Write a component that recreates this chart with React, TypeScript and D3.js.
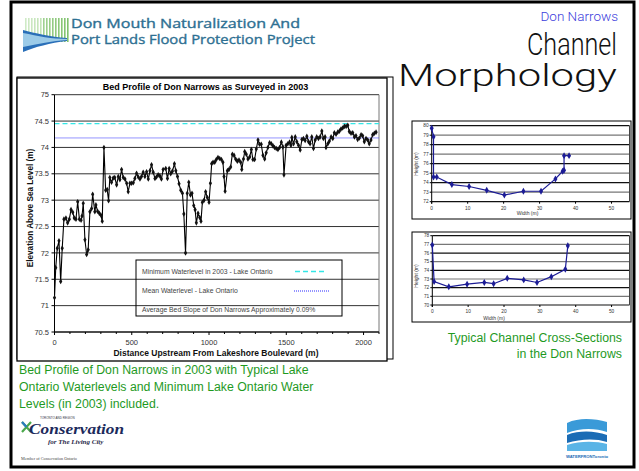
import React from "react";
import * as d3 from "d3";

// Bed profile survey (distance upstream m, elevation m)
const profileDist = [
  0, 8, 18, 29, 40, 50, 61, 74, 85, 96, 107, 118, 128, 139, 150, 161, 172, 178, 186, 197,
  208, 218, 229, 240, 247, 261, 268, 279, 290, 300, 309, 320, 331, 341, 350, 358, 369, 380, 390, 402,
  413, 423, 434, 445, 456, 467, 477, 488, 499, 510, 520, 531, 542, 553, 563, 574, 585, 596, 607, 618,
  628, 639, 650, 660, 671, 682, 692, 703, 720, 731, 742, 752, 763, 776, 785, 796, 806, 817, 828, 837,
  848, 859, 869, 880, 890, 901, 910, 918, 929, 940, 948, 957, 968, 978, 989, 1000, 1009, 1017, 1026, 1037,
  1047, 1058, 1069, 1080, 1090, 1097, 1104, 1119, 1129, 1140, 1151, 1162, 1172, 1183, 1194, 1205, 1212, 1223, 1231, 1241,
  1252, 1263, 1274, 1284, 1295, 1306, 1317, 1327, 1338, 1349, 1360, 1370, 1381, 1392, 1403, 1414, 1424, 1435, 1446, 1457,
  1468, 1478, 1485, 1499, 1510, 1521, 1530, 1536, 1547, 1558, 1568, 1579, 1590, 1601, 1611, 1622, 1633, 1644, 1654, 1665,
  1676, 1687, 1697, 1708, 1719, 1730, 1740, 1751, 1757, 1769, 1779, 1790, 1801, 1811, 1822, 1833, 1844, 1854, 1865, 1876,
  1887, 1898, 1908, 1919, 1930, 1941, 1951, 1962, 1973, 1984, 1994, 2005, 2016, 2027, 2037, 2048, 2059, 2070, 2081,
];
const profileElev = [
  71.15, 71.72, 72.09, 72.23, 71.46, 72.09, 72.64, 72.66, 72.57, 72.64, 72.82, 72.77, 72.66, 72.64, 72.97, 72.64, 72.62, 72.7, 72.94, 72.25,
  71.97, 72.06, 72.78, 72.84, 73.11, 72.78, 72.91, 72.79, 72.75, 72.72, 72.6, 74.0, 73.19, 73.2, 72.99, 73.43, 73.34, 73.42, 73.43, 73.29,
  73.45, 73.39, 73.58, 73.43, 73.4, 73.32, 73.16, 73.32, 73.32, 73.33, 73.41, 73.51, 73.44, 73.4, 73.45, 73.53, 73.45, 73.54, 73.4, 73.56,
  73.67, 73.53, 73.41, 73.44, 73.48, 73.46, 73.4, 73.58, 73.6, 73.41, 73.6, 73.5, 73.55, 73.69, 73.56, 73.45, 73.31, 73.19, 73.13, 72.74,
  72.0, 73.13, 73.34, 73.1, 73.13, 72.9, 72.82, 72.57, 72.75, 72.67, 72.6, 72.96, 73.0, 73.16, 73.05, 72.96, 73.32, 73.69, 73.72, 73.72,
  73.77, 73.81, 73.79, 73.77, 73.72, 73.45, 73.17, 73.56, 73.58, 73.63, 73.87, 73.85, 73.78, 73.74, 73.76, 73.72, 73.58, 73.78, 73.92, 73.87,
  73.78, 73.82, 73.96, 73.77, 73.77, 73.97, 74.14, 74.06, 74.06, 73.85, 73.78, 73.9, 74.0, 74.09, 74.07, 74.03, 74.0, 73.98, 73.96, 74.0,
  74.1, 74.01, 73.48, 74.04, 74.07, 74.1, 74.04, 74.19, 74.07, 74.2, 74.11, 74.04, 73.95, 74.15, 74.17, 74.13, 74.21, 74.11, 74.07, 74.2,
  73.98, 74.14, 74.2, 74.17, 74.2, 74.31, 74.17, 74.2, 74.0, 74.07, 74.12, 74.2, 74.17, 74.28, 74.25, 74.29, 74.31, 74.35, 74.37, 74.4,
  74.4, 74.42, 74.3, 74.27, 74.28, 74.2, 74.22, 74.15, 74.18, 74.24, 74.22, 74.11, 74.17, 74.14, 74.07, 74.14, 74.24, 74.27, 74.29,
];

const minWaterLevel = 74.45;
const meanWaterLevel = 74.18;

const legendLabels = [
  "Minimum Waterlevel in 2003 - Lake Ontario",
  "Mean Waterlevel - Lake Ontario",
  "Average Bed Slope of Don Narrows Approximately 0.09%",
];

const yTicks = [70.5, 71, 71.5, 72, 72.5, 73, 73.5, 74, 74.5, 75];
const xTicks = [0, 500, 1000, 1500, 2000];
const xMinorTicks = d3.range(0, 2101, 100);

// cross-section 1
const xs1Width = [0, 0.5, 0.5, 1.4, 5.6, 10.4, 15.3, 20.2, 25.5, 30.4, 34.4, 36.4, 36.8, 36.8, 38.2];
const xs1Height = [79.73, 78.84, 74.6, 74.6, 73.8, 73.6, 73.2, 72.7, 73.1, 73.1, 74.4, 75.2, 75.3, 76.85, 76.85];
// cross-section 2
const xs2Width = [0, 0.5, 4.6, 9.7, 14.5, 17.1, 20.9, 25.5, 29.2, 33.2, 37.1, 37.8];
const xs2Height = [76.93, 72.7, 72.1, 72.4, 72.6, 72.46, 73.08, 72.9, 72.6, 73.27, 74.12, 76.85];

const xsXTicks = [0, 10, 20, 30, 40, 50];
const xs1YTicks = [72, 73, 74, 75, 76, 77, 78, 79, 80];
const xs2YTicks = [70, 71, 72, 73, 74, 75, 76, 77, 78];

const FONT = "Arial, 'Liberation Sans', Helvetica, sans-serif";

function CrossSection({ widths, heights, yTicks, box, plot, widthLabelX, widthLabelY, heightLabelY }) {
  const x = d3.scaleLinear().domain([0, 55]).range([plot.left, plot.right]);
  const y = d3.scaleLinear().domain([yTicks[0], yTicks[yTicks.length - 1]]).range([plot.bottom, plot.top]);
  const pts = widths.map((w, i) => [x(w), y(heights[i])]);
  const line = d3.line()(pts as [number, number][]);
  const diamond = d3.symbol().type(d3.symbolDiamond).size(14)();
  return (
    <g fontFamily={FONT}>
      <rect x={box.x} y={box.y} width={box.w} height={box.h} fill="#fff" stroke="#000" strokeWidth={1} />
      {yTicks.map((t, i) => (
        <g key={t}>
          <line x1={plot.left} x2={plot.right} y1={y(t)} y2={y(t)} stroke={i % 2 ? "#777" : "#111"} strokeWidth={1.2} />
          <line x1={plot.left - 2} x2={plot.left} y1={y(t)} y2={y(t)} stroke="#000" />
          <text x={plot.left - 3} y={y(t) + 1.7} fontSize={4.8} textAnchor="end" fill="#333">{t}</text>
        </g>
      ))}
      <line x1={plot.right} x2={plot.right} y1={plot.top} y2={plot.bottom} stroke="#444" />
      <line x1={plot.left} x2={plot.left} y1={plot.top} y2={plot.bottom + 2} stroke="#000" />
      {xsXTicks.map((t) => (
        <g key={t}>
          <line x1={x(t)} x2={x(t)} y1={plot.bottom} y2={plot.bottom + 2} stroke="#000" />
          <text x={x(t)} y={plot.bottom + 8} fontSize={4.8} textAnchor="middle" fill="#333">{t}</text>
        </g>
      ))}
      <text x={widthLabelX} y={widthLabelY} fontSize={5} textAnchor="middle" fill="#333">Width (m)</text>
      <text transform={`translate(${box.x + 6},${heightLabelY}) rotate(-90)`} fontSize={5} textAnchor="middle" fill="#333">Height (m)</text>
      <path d={line} fill="none" stroke="#1c1c96" strokeWidth={1.2} />
      {pts.map((p, i) => (
        <path key={i} d={diamond} transform={`translate(${p[0]},${p[1]})`} fill="#1c1c96" />
      ))}
    </g>
  );
}

export default function App() {
  const x = d3.scaleLinear().domain([0, 2100]).range([54.5, 379]);
  const y = d3.scaleLinear().domain([70.5, 75]).range([332, 94.7]);
  const pts = profileDist.map((d, i) => [x(d), y(profileElev[i])] as [number, number]);
  const profileLine = d3.line()(pts);
  const marker = d3.symbol().type(d3.symbolDiamond).size(9)();

  const stripes = d3.range(0, 15);

  return (
    <svg width={639} height={471} style={{ position: "absolute", left: 0, top: 0, background: "#fff" }}>
      <rect x={0} y={0} width={639} height={471} fill="#fff" />
      {/* slide frame */}
      <rect x={11} y={2} width={623} height={465} fill="none" stroke="#000" strokeWidth={3} />

      {/* top-left logo */}
      <g>
        {stripes.map((i) => (
          <rect key={i} x={25 + i * 3} y={18} width={1.6} height={24} fill={i < 6 ? "#a8d898" : "#7cc068"} opacity={0.55 + i * 0.03} />
        ))}
        <path d="M23,30 C35,33 50,37 67,38 L67,41 C50,43 35,47 23,52 Z" fill="#2a6fb8" />
        <path d="M23,33 C38,36 52,39 67,39 L67,40 C52,41 38,44 23,47 Z" fill="#9ccbe8" />
      </g>
      <g fontFamily="'Open Sans', 'Noto Sans', sans-serif" fontWeight={400} fill="#2d6f92" stroke="#2d6f92" strokeWidth={0.35}>
        <text x={71} y={28} fontSize={12.5} textLength={229} lengthAdjust="spacingAndGlyphs">Don Mouth Naturalization And</text>
        <text x={71} y={44} fontSize={12.5} textLength={244} lengthAdjust="spacingAndGlyphs">Port Lands Flood Protection Project</text>
      </g>

      {/* slide title */}
      <g fontFamily="Roboto, Arial, sans-serif" fontWeight={300} textAnchor="end">
        <text x={618} y={20.5} fontSize={13.5} fill="#3c3cdc">Don Narrows</text>
        <text x={617} y={55} fontSize={31} fill="#111" textLength={90} lengthAdjust="spacingAndGlyphs">Channel</text>
        <text x={617} y={86} fontSize={31} fill="#111" textLength={219} lengthAdjust="spacingAndGlyphs">Morphology</text>
      </g>

      {/* main chart frames */}
      <rect x={17} y={77} width={376} height={282} fill="none" stroke="#000" strokeWidth={1} />
      <rect x={17} y={78} width={370} height={283} fill="#fff" stroke="#000" strokeWidth={1.3} />

      <g fontFamily={FONT}>
        <text x={205.5} y={90} fontSize={9} fontWeight="bold" textAnchor="middle" fill="#000">Bed Profile of Don Narrows as Surveyed in 2003</text>

        {/* gridlines */}
        {yTicks.map((t) => (
          <g key={t}>
            <line x1={x(0)} x2={x(2100)} y1={y(t)} y2={y(t)} stroke="#333" strokeWidth={1} />
            <line x1={x(0) - 3} x2={x(0)} y1={y(t)} y2={y(t)} stroke="#000" />
            <text x={49} y={y(t) + 2.6} fontSize={7.5} textAnchor="end" fill="#333">{t}</text>
          </g>
        ))}
        <line x1={x(2100)} x2={x(2100)} y1={y(75)} y2={y(70.5)} stroke="#777" />

        {/* legend (transparent) */}
        <rect x={136} y={260} width={206} height={56} fill="none" stroke="#000" strokeWidth={1} />
        <text x={142} y={274} fontSize={6.8} fill="#444">{legendLabels[0]}</text>
        <line x1={295} x2={327} y1={271.5} y2={271.5} stroke="#33e6e6" strokeWidth={1.3} strokeDasharray="5,3" />
        <text x={142} y={293} fontSize={6.8} fill="#444">{legendLabels[1]}</text>
        <line x1={294} x2={330} y1={291} y2={291} stroke="#2a2aff" strokeWidth={1} strokeDasharray="1,1" />
        <text x={142} y={311.5} fontSize={6.8} fill="#444">{legendLabels[2]}</text>

        {/* lake levels */}
        <line x1={x(0)} x2={x(2100)} y1={y(minWaterLevel)} y2={y(minWaterLevel)} stroke="#33e6e6" strokeWidth={1.3} strokeDasharray="5,3" />
        <line x1={x(0)} x2={x(2100)} y1={y(meanWaterLevel)} y2={y(meanWaterLevel)} stroke="#2a2aff" strokeWidth={1} strokeDasharray="1,1" />

        {/* axes */}
        <line x1={x(0)} x2={x(0)} y1={y(75)} y2={y(70.5)} stroke="#000" strokeWidth={1} />
        <line x1={x(0)} x2={x(2100)} y1={y(70.5)} y2={y(70.5)} stroke="#000" strokeWidth={1} />
        {xMinorTicks.map((t) => (
          <line key={t} x1={x(t)} x2={x(t)} y1={y(70.5)} y2={y(70.5) + (t % 500 === 0 ? 3 : 2)} stroke="#000" />
        ))}
        {xTicks.map((t) => (
          <text key={t} x={x(t)} y={345} fontSize={7.5} textAnchor="middle" fill="#333">{t}</text>
        ))}
        <text x={216} y={356} fontSize={8.5} fontWeight="bold" textAnchor="middle" fill="#111">Distance Upstream From Lakeshore Boulevard (m)</text>
        <text transform="translate(33,208) rotate(-90)" fontSize={8.2} fontWeight="bold" textAnchor="middle" fill="#111">Elevation Above Sea Level (m)</text>

        {/* profile */}
        <path d={profileLine} fill="none" stroke="#000" strokeWidth={1.1} />
        {pts.map((p, i) => (
          <path key={i} d={marker} transform={`translate(${p[0]},${p[1]})`} fill="#111" />
        ))}
      </g>

      {/* cross sections */}
      <CrossSection
        widths={xs1Width}
        heights={xs1Height}
        yTicks={xs1YTicks}
        box={{ x: 412, y: 121, w: 219, h: 98 }}
        plot={{ left: 431.7, right: 629.5, top: 125.7, bottom: 201.7 }}
        widthLabelX={527.5}
        widthLabelY={215}
        heightLabelY={164}
      />
      <CrossSection
        widths={xs2Width}
        heights={xs2Height}
        yTicks={xs2YTicks}
        box={{ x: 412, y: 232, w: 219, h: 90 }}
        plot={{ left: 432.3, right: 629.5, top: 235.7, bottom: 305 }}
        widthLabelX={494}
        widthLabelY={319.5}
        heightLabelY={276}
      />

      {/* captions */}
      <g fontFamily={FONT} fill="#1f9a1f" fontSize={12.3}>
        <text x={622} y={342} textAnchor="end">Typical Channel Cross-Sections</text>
        <text x={622} y={358} textAnchor="end">in the Don Narrows</text>
        <text x={19} y={374}>Bed Profile of Don Narrows in 2003 with Typical Lake</text>
        <text x={19} y={391}>Ontario Waterlevels and Minimum Lake Ontario Water</text>
        <text x={19} y={408}>Levels (in 2003) included.</text>
      </g>

      {/* conservation logo */}
      <g>
        <path d="M22,422 L31,432 M31,422 L22,432" stroke="#4aa84a" strokeWidth={2.2} />
        <path d="M22,422 L26.5,427" stroke="#2a7ac0" strokeWidth={2.2} />
        <text x={40} y={418.5} fontSize={3} fill="#334" fontFamily={FONT}>TORONTO AND REGION</text>
        <text x={29} y={434} fontSize={15.5} fontStyle="italic" fontWeight="bold" fill="#1c2a5c" fontFamily="'Liberation Serif', 'DejaVu Serif', serif" textLength={95} lengthAdjust="spacingAndGlyphs">Conservation</text>
        <text x={48} y={444} fontSize={7} fontStyle="italic" fontWeight="bold" fill="#2a2a4a" fontFamily="'Liberation Serif', serif">for The Living City</text>
        <text x={21} y={460} fontSize={4.2} fill="#444" fontFamily="'Liberation Serif', serif">Member of Conservation Ontario</text>
      </g>

      {/* waterfront logo */}
      <g>
        <path d="M567,423 C580,417 595,419 607,422 L607,432 C595,428 580,428 567,433 Z" fill="#3a9ad8" />
        <path d="M567,435 C580,430 595,431 607,435 L607,442 C595,438 580,439 567,443 Z" fill="#1b6cb5" />
        <path d="M567,445 C580,441 595,441 607,444 L607,451 L567,451 Z" fill="#5ab4e6" />
        <text x={587} y={458} fontSize={4.2} fontWeight="bold" textAnchor="middle" fill="#1b6cb5" fontFamily={FONT}>WATERFRONToronto</text>
      </g>
    </svg>
  );
}
